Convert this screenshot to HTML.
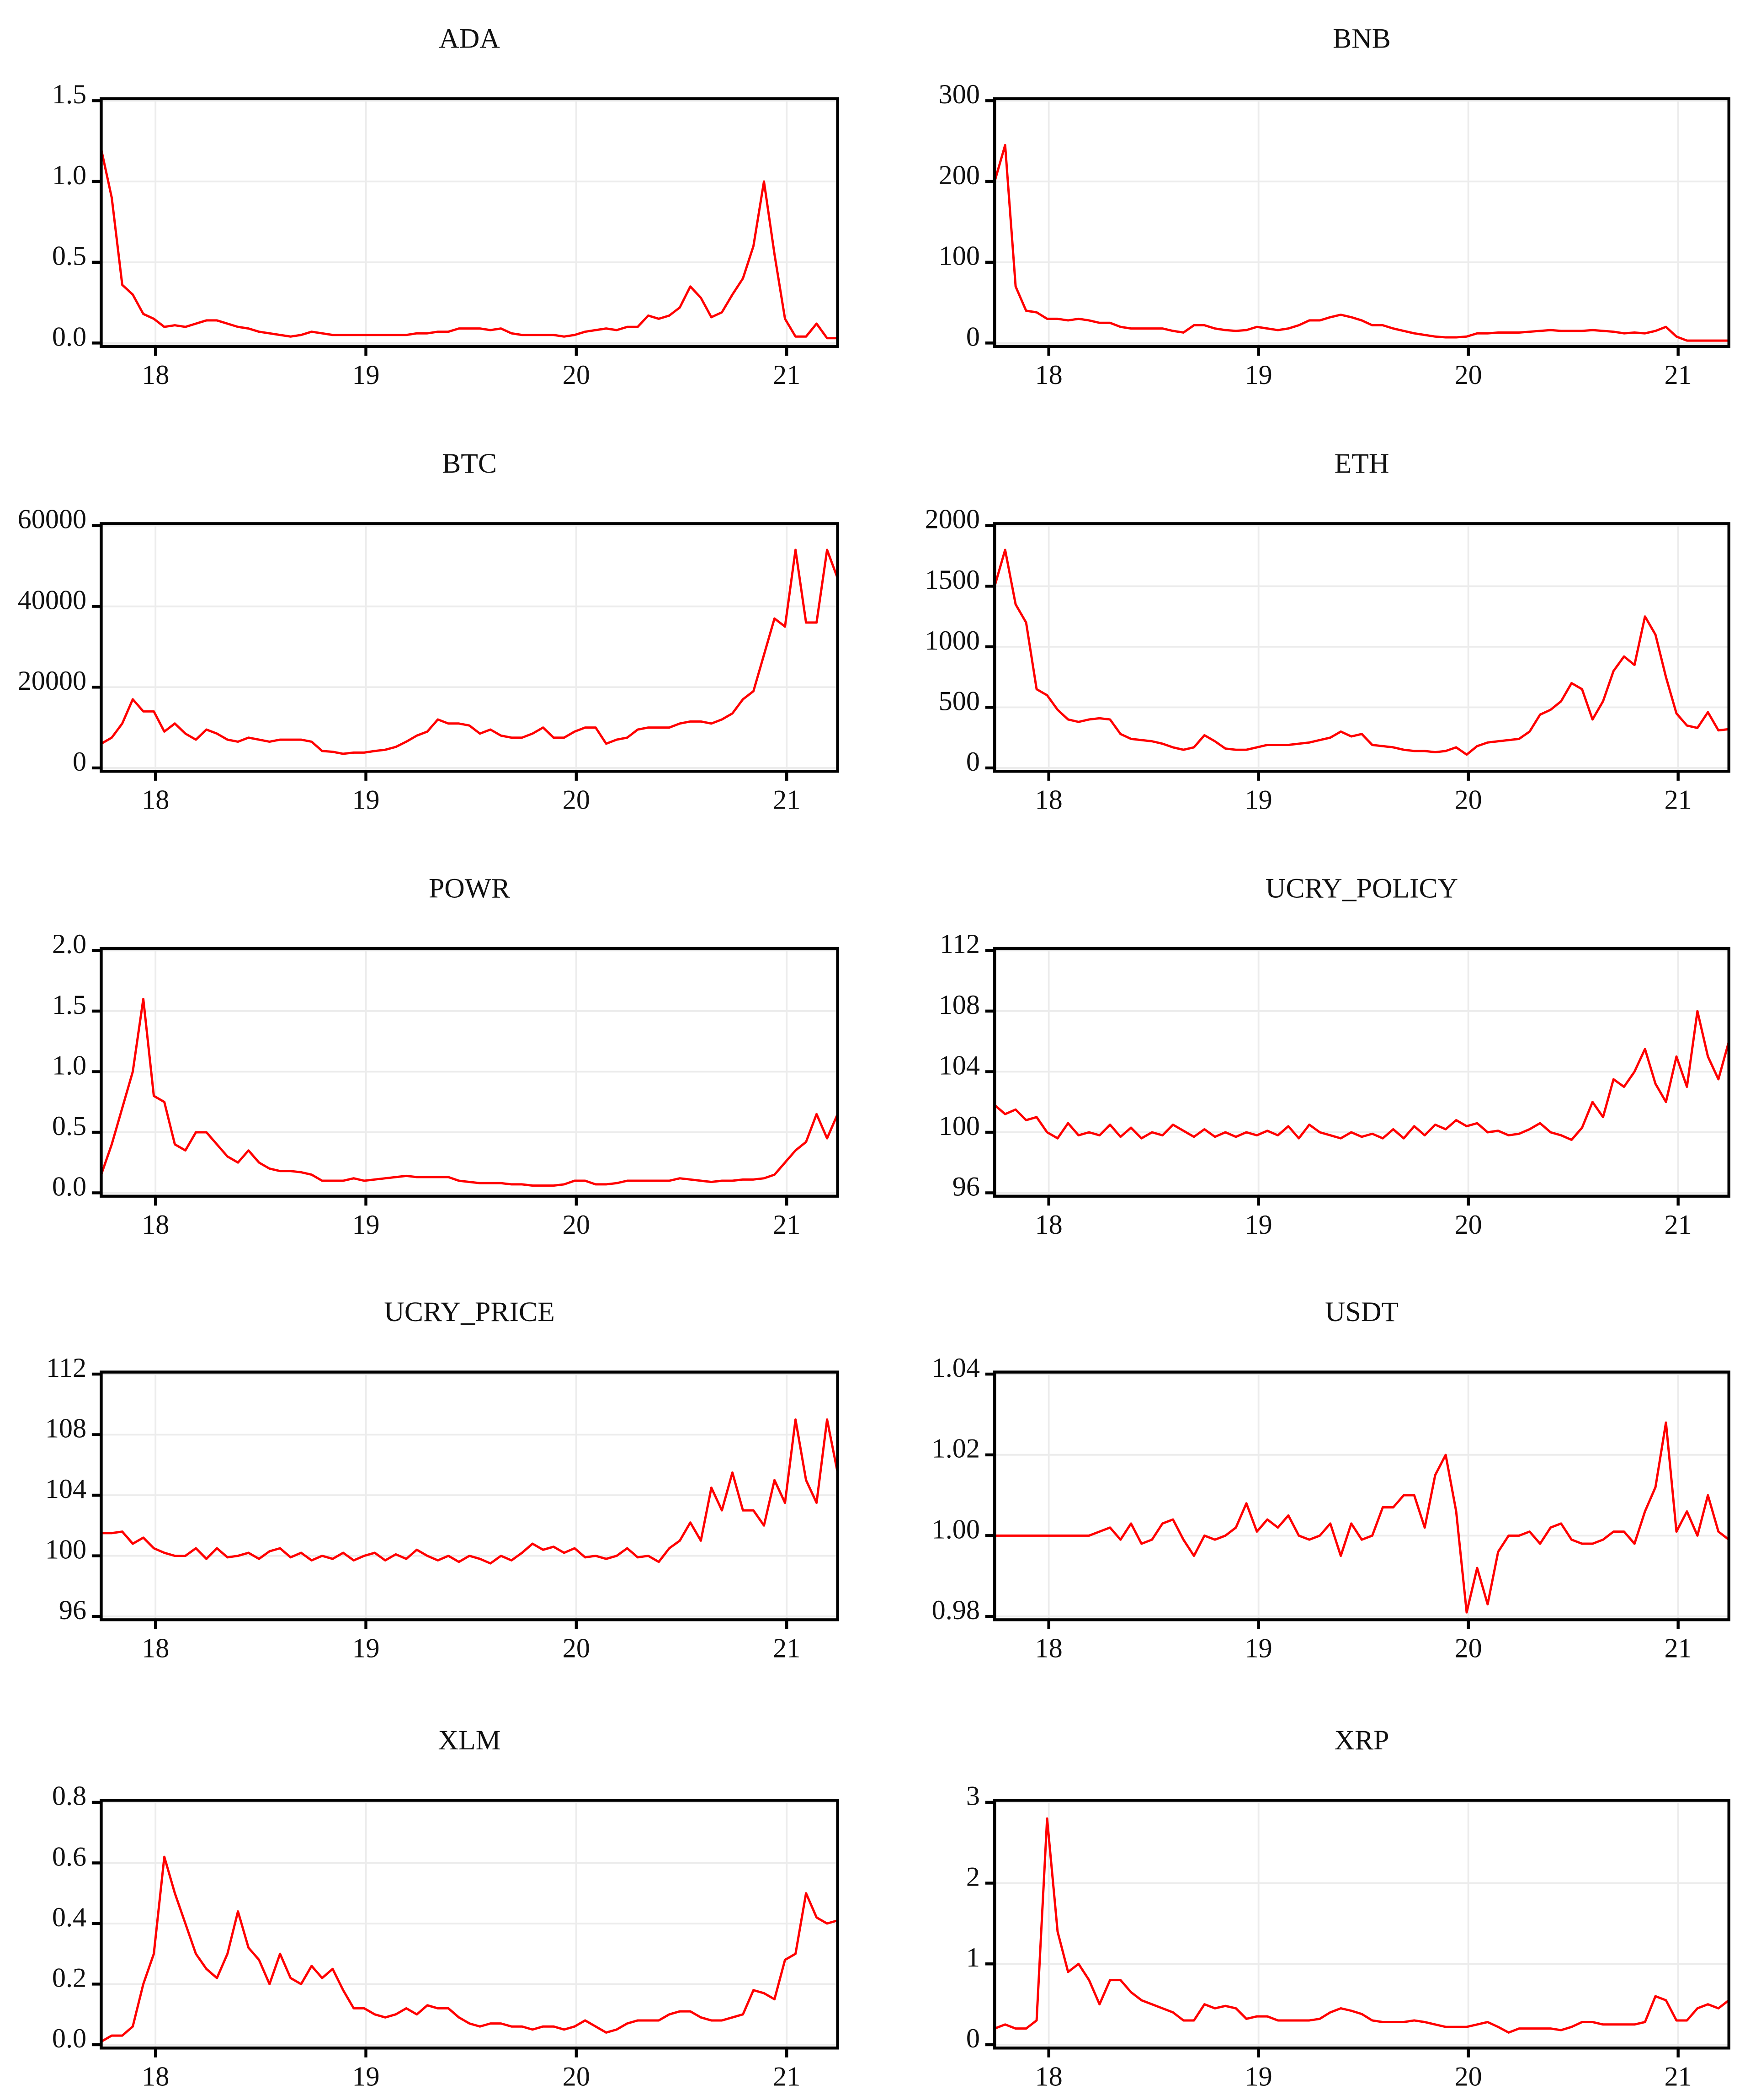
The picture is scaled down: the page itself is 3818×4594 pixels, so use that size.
<!DOCTYPE html>
<html><head><meta charset="utf-8"><title>Crypto price panels</title>
<style>
html,body{margin:0;padding:0;background:#fff;}
svg{display:block;}
text{font-family:"Liberation Serif","DejaVu Serif",serif;fill:#111;}
</style></head>
<body>
<svg id="chart" xmlns="http://www.w3.org/2000/svg" width="3818" height="4594" viewBox="0 0 1300 1564.2"></svg>
<script>
const ADA=[1.2,0.9,0.36,0.3,0.18,0.15,0.1,0.11,0.1,0.12,0.14,0.14,0.12,0.1,0.09,0.07,0.06,0.05,0.04,0.05,0.07,0.06,0.05,0.05,0.05,0.05,0.05,0.05,0.05,0.05,0.06,0.06,0.07,0.07,0.09,0.09,0.09,0.08,0.09,0.06,0.05,0.05,0.05,0.05,0.04,0.05,0.07,0.08,0.09,0.08,0.1,0.1,0.17,0.15,0.17,0.22,0.35,0.28,0.16,0.19,0.3,0.4,0.6,1.0,0.55,0.15,0.04,0.04,0.12,0.03,0.03];
const BNB=[200,245,70,40,38,30,30,28,30,28,25,25,20,18,18,18,18,15,13,22,22,18,16,15,16,20,18,16,18,22,28,28,32,35,32,28,22,22,18,15,12,10,8,7,7,8,12,12,13,13,13,14,15,16,15,15,15,16,15,14,12,13,12,15,20,8,3,3,3,3,3];
const BTC=[6000,7500,11000,17000,14000,14000,9000,11000,8500,7000,9500,8500,7000,6500,7500,7000,6500,7000,7000,7000,6500,4200,4000,3500,3800,3800,4200,4500,5200,6500,8000,9000,12000,11000,11000,10500,8500,9500,8000,7500,7500,8500,10000,7500,7500,9000,10000,10000,6000,7000,7500,9500,10000,10000,10000,11000,11500,11500,11000,12000,13500,17000,19000,28000,37000,35000,54000,36000,36000,54000,47000];
const ETH=[1500,1800,1350,1200,650,600,480,400,380,400,410,400,280,240,230,220,200,170,150,170,270,220,160,150,150,170,190,190,190,200,210,230,250,300,260,280,190,180,170,150,140,140,130,140,170,110,180,210,220,230,240,300,440,480,550,700,650,400,550,800,920,850,1250,1100,750,450,350,330,460,310,320];
const POWR=[0.15,0.4,0.7,1.0,1.6,0.8,0.75,0.4,0.35,0.5,0.5,0.4,0.3,0.25,0.35,0.25,0.2,0.18,0.18,0.17,0.15,0.1,0.1,0.1,0.12,0.1,0.11,0.12,0.13,0.14,0.13,0.13,0.13,0.13,0.1,0.09,0.08,0.08,0.08,0.07,0.07,0.06,0.06,0.06,0.07,0.1,0.1,0.07,0.07,0.08,0.1,0.1,0.1,0.1,0.1,0.12,0.11,0.1,0.09,0.1,0.1,0.11,0.11,0.12,0.15,0.25,0.35,0.42,0.65,0.45,0.65];
const UCRY_POLICY=[101.8,101.2,101.5,100.8,101,100,99.6,100.6,99.8,100,99.8,100.5,99.7,100.3,99.6,100,99.8,100.5,100.1,99.7,100.2,99.7,100,99.7,100,99.8,100.1,99.8,100.4,99.6,100.5,100,99.8,99.6,100,99.7,99.9,99.6,100.2,99.6,100.4,99.8,100.5,100.2,100.8,100.4,100.6,100,100.1,99.8,99.9,100.2,100.6,100,99.8,99.5,100.3,102,101,103.5,103,104,105.5,103.2,102,105,103,108,105,103.5,106];
const UCRY_PRICE=[101.5,101.5,101.6,100.8,101.2,100.5,100.2,100,100,100.5,99.8,100.5,99.9,100,100.2,99.8,100.3,100.5,99.9,100.2,99.7,100,99.8,100.2,99.7,100,100.2,99.7,100.1,99.8,100.4,100,99.7,100,99.6,100,99.8,99.5,100,99.7,100.2,100.8,100.4,100.6,100.2,100.5,99.9,100,99.8,100,100.5,99.9,100,99.6,100.5,101,102.2,101,104.5,103,105.5,103,103,102,105,103.5,109,105,103.5,109,105.5];
const USDT=[1,1,1,1,1,1,1,1,1,1,1.001,1.002,0.999,1.003,0.998,0.999,1.003,1.004,0.999,0.995,1,0.999,1,1.002,1.008,1.001,1.004,1.002,1.005,1,0.999,1,1.003,0.995,1.003,0.999,1,1.007,1.007,1.01,1.01,1.002,1.015,1.02,1.006,0.981,0.992,0.983,0.996,1,1,1.001,0.998,1.002,1.003,0.999,0.998,0.998,0.999,1.001,1.001,0.998,1.006,1.012,1.028,1.001,1.006,1,1.01,1.001,0.999];
const XLM=[0.01,0.03,0.03,0.06,0.2,0.3,0.62,0.5,0.4,0.3,0.25,0.22,0.3,0.44,0.32,0.28,0.2,0.3,0.22,0.2,0.26,0.22,0.25,0.18,0.12,0.12,0.1,0.09,0.1,0.12,0.1,0.13,0.12,0.12,0.09,0.07,0.06,0.07,0.07,0.06,0.06,0.05,0.06,0.06,0.05,0.06,0.08,0.06,0.04,0.05,0.07,0.08,0.08,0.08,0.1,0.11,0.11,0.09,0.08,0.08,0.09,0.1,0.18,0.17,0.15,0.28,0.3,0.5,0.42,0.4,0.41];
const XRP=[0.2,0.25,0.2,0.2,0.3,2.8,1.4,0.9,1.0,0.8,0.5,0.8,0.8,0.65,0.55,0.5,0.45,0.4,0.3,0.3,0.5,0.45,0.48,0.45,0.32,0.35,0.35,0.3,0.3,0.3,0.3,0.32,0.4,0.45,0.42,0.38,0.3,0.28,0.28,0.28,0.3,0.28,0.25,0.22,0.22,0.22,0.25,0.28,0.22,0.15,0.2,0.2,0.2,0.2,0.18,0.22,0.28,0.28,0.25,0.25,0.25,0.25,0.28,0.6,0.55,0.3,0.3,0.45,0.5,0.45,0.55];
const yearTicks=[18,19,20,21];
const yearLabels=["18","19","20","21"];
const ticksADA=[0,0.5,1,1.5], labelsADA=["0.0","0.5","1.0","1.5"];
const ticksBNB=[0,100,200,300], labelsBNB=["0","100","200","300"];
const ticksBTC=[0,20000,40000,60000], labelsBTC=["0","20000","40000","60000"];
const ticksETH=[0,500,1000,1500,2000], labelsETH=["0","500","1000","1500","2000"];
const ticksPOWR=[0,0.5,1,1.5,2], labelsPOWR=["0.0","0.5","1.0","1.5","2.0"];
const ticksUCRY=[96,100,104,108,112], labelsUCRY=["96","100","104","108","112"];
const ticksUSDT=[0.98,1.0,1.02,1.04], labelsUSDT=["0.98","1.00","1.02","1.04"];
const ticksXLM=[0,0.2,0.4,0.6,0.8], labelsXLM=["0.0","0.2","0.4","0.6","0.8"];
const ticksXRP=[0,1,2,3], labelsXRP=["0","1","2","3"];
const T0=17.742, STEP=0.05, T1=21.242;

const panels=[
 {title:"ADA",data:ADA,ticks:ticksADA,labels:labelsADA,col:0,row:0},
 {title:"BNB",data:BNB,ticks:ticksBNB,labels:labelsBNB,col:1,row:0},
 {title:"BTC",data:BTC,ticks:ticksBTC,labels:labelsBTC,col:0,row:1},
 {title:"ETH",data:ETH,ticks:ticksETH,labels:labelsETH,col:1,row:1},
 {title:"POWR",data:POWR,ticks:ticksPOWR,labels:labelsPOWR,col:0,row:2},
 {title:"UCRY_POLICY",data:UCRY_POLICY,ticks:ticksUCRY,labels:labelsUCRY,col:1,row:2},
 {title:"UCRY_PRICE",data:UCRY_PRICE,ticks:ticksUCRY,labels:labelsUCRY,col:0,row:3},
 {title:"USDT",data:USDT,ticks:ticksUSDT,labels:labelsUSDT,col:1,row:3},
 {title:"XLM",data:XLM,ticks:ticksXLM,labels:labelsXLM,col:0,row:4},
 {title:"XRP",data:XRP,ticks:ticksXRP,labels:labelsXRP,col:1,row:4}
];
const colX=[[75.4,624],[741,1288]];
const rowTop=[73.5,390,706.5,1022,1341];
const H=184.5;
const NS="http://www.w3.org/2000/svg";
const svg=document.getElementById("chart");
function mk(tag,attrs,parent){const e=document.createElementNS(NS,tag);for(const k in attrs)e.setAttribute(k,attrs[k]);parent.appendChild(e);return e;}

panels.forEach(p=>{
  const x0=colX[p.col][0], x1=colX[p.col][1], top=rowTop[p.row], bot=top+H;
  const ymin=p.ticks[0], ymax=p.ticks[p.ticks.length-1];
  const xs=t=>x0+(t-T0)/(T1-T0)*(x1-x0);
  const ys=v=>(bot-2.5)-(v-ymin)/(ymax-ymin)*((bot-2.5)-(top+1.5));
  const slug=p.title.toLowerCase().replace(/_/g,'-');
  const g=mk("g",{},svg);
  
  
  const title=mk("text",{x:(x0+x1)/2,y:top-38,"text-anchor":"middle","font-size":21},g);
  title.textContent=p.title;
  
  
  p.ticks.forEach(v=>{
    const l=mk("line",{x1:x0,x2:x1,y1:ys(v),y2:ys(v),stroke:"#ececec","stroke-width":1.3},g);
    
    
  });
  yearTicks.forEach(t=>{
    const l=mk("line",{x1:xs(t),x2:xs(t),y1:top,y2:bot,stroke:"#ececec","stroke-width":1.3},g);
    
    
  });
  let d="";
  p.data.forEach((v,i)=>{const t=T0+STEP*i;d+=(i?"L":"M")+xs(t).toFixed(2)+","+ys(v).toFixed(2);});
  const path=mk("path",{d:d,fill:"none",stroke:"#ff0000","stroke-width":1.7,"stroke-linejoin":"round"},g);
  
  
  const box=mk("rect",{x:x0,y:top,width:x1-x0,height:H,fill:"none",stroke:"#000","stroke-width":2.2},g);
  
  
  p.ticks.forEach((v,k)=>{
    const tk=mk("line",{x1:x0-7,x2:x0,y1:ys(v),y2:ys(v),stroke:"#000","stroke-width":2.2},g);
    
    
    const tl=mk("text",{x:x0-11,y:ys(v)+2,"text-anchor":"end","font-size":20.5},g);
    tl.textContent=p.labels[k];
    
    
  });
  yearTicks.forEach((t,k)=>{
    const tk=mk("line",{x1:xs(t),x2:xs(t),y1:bot,y2:bot+7,stroke:"#000","stroke-width":2.2},g);
    
    
    const tl=mk("text",{x:xs(t),y:bot+28,"text-anchor":"middle","font-size":20.5},g);
    tl.textContent=yearLabels[k];
    
    
  });
});
</script>
</body></html>
